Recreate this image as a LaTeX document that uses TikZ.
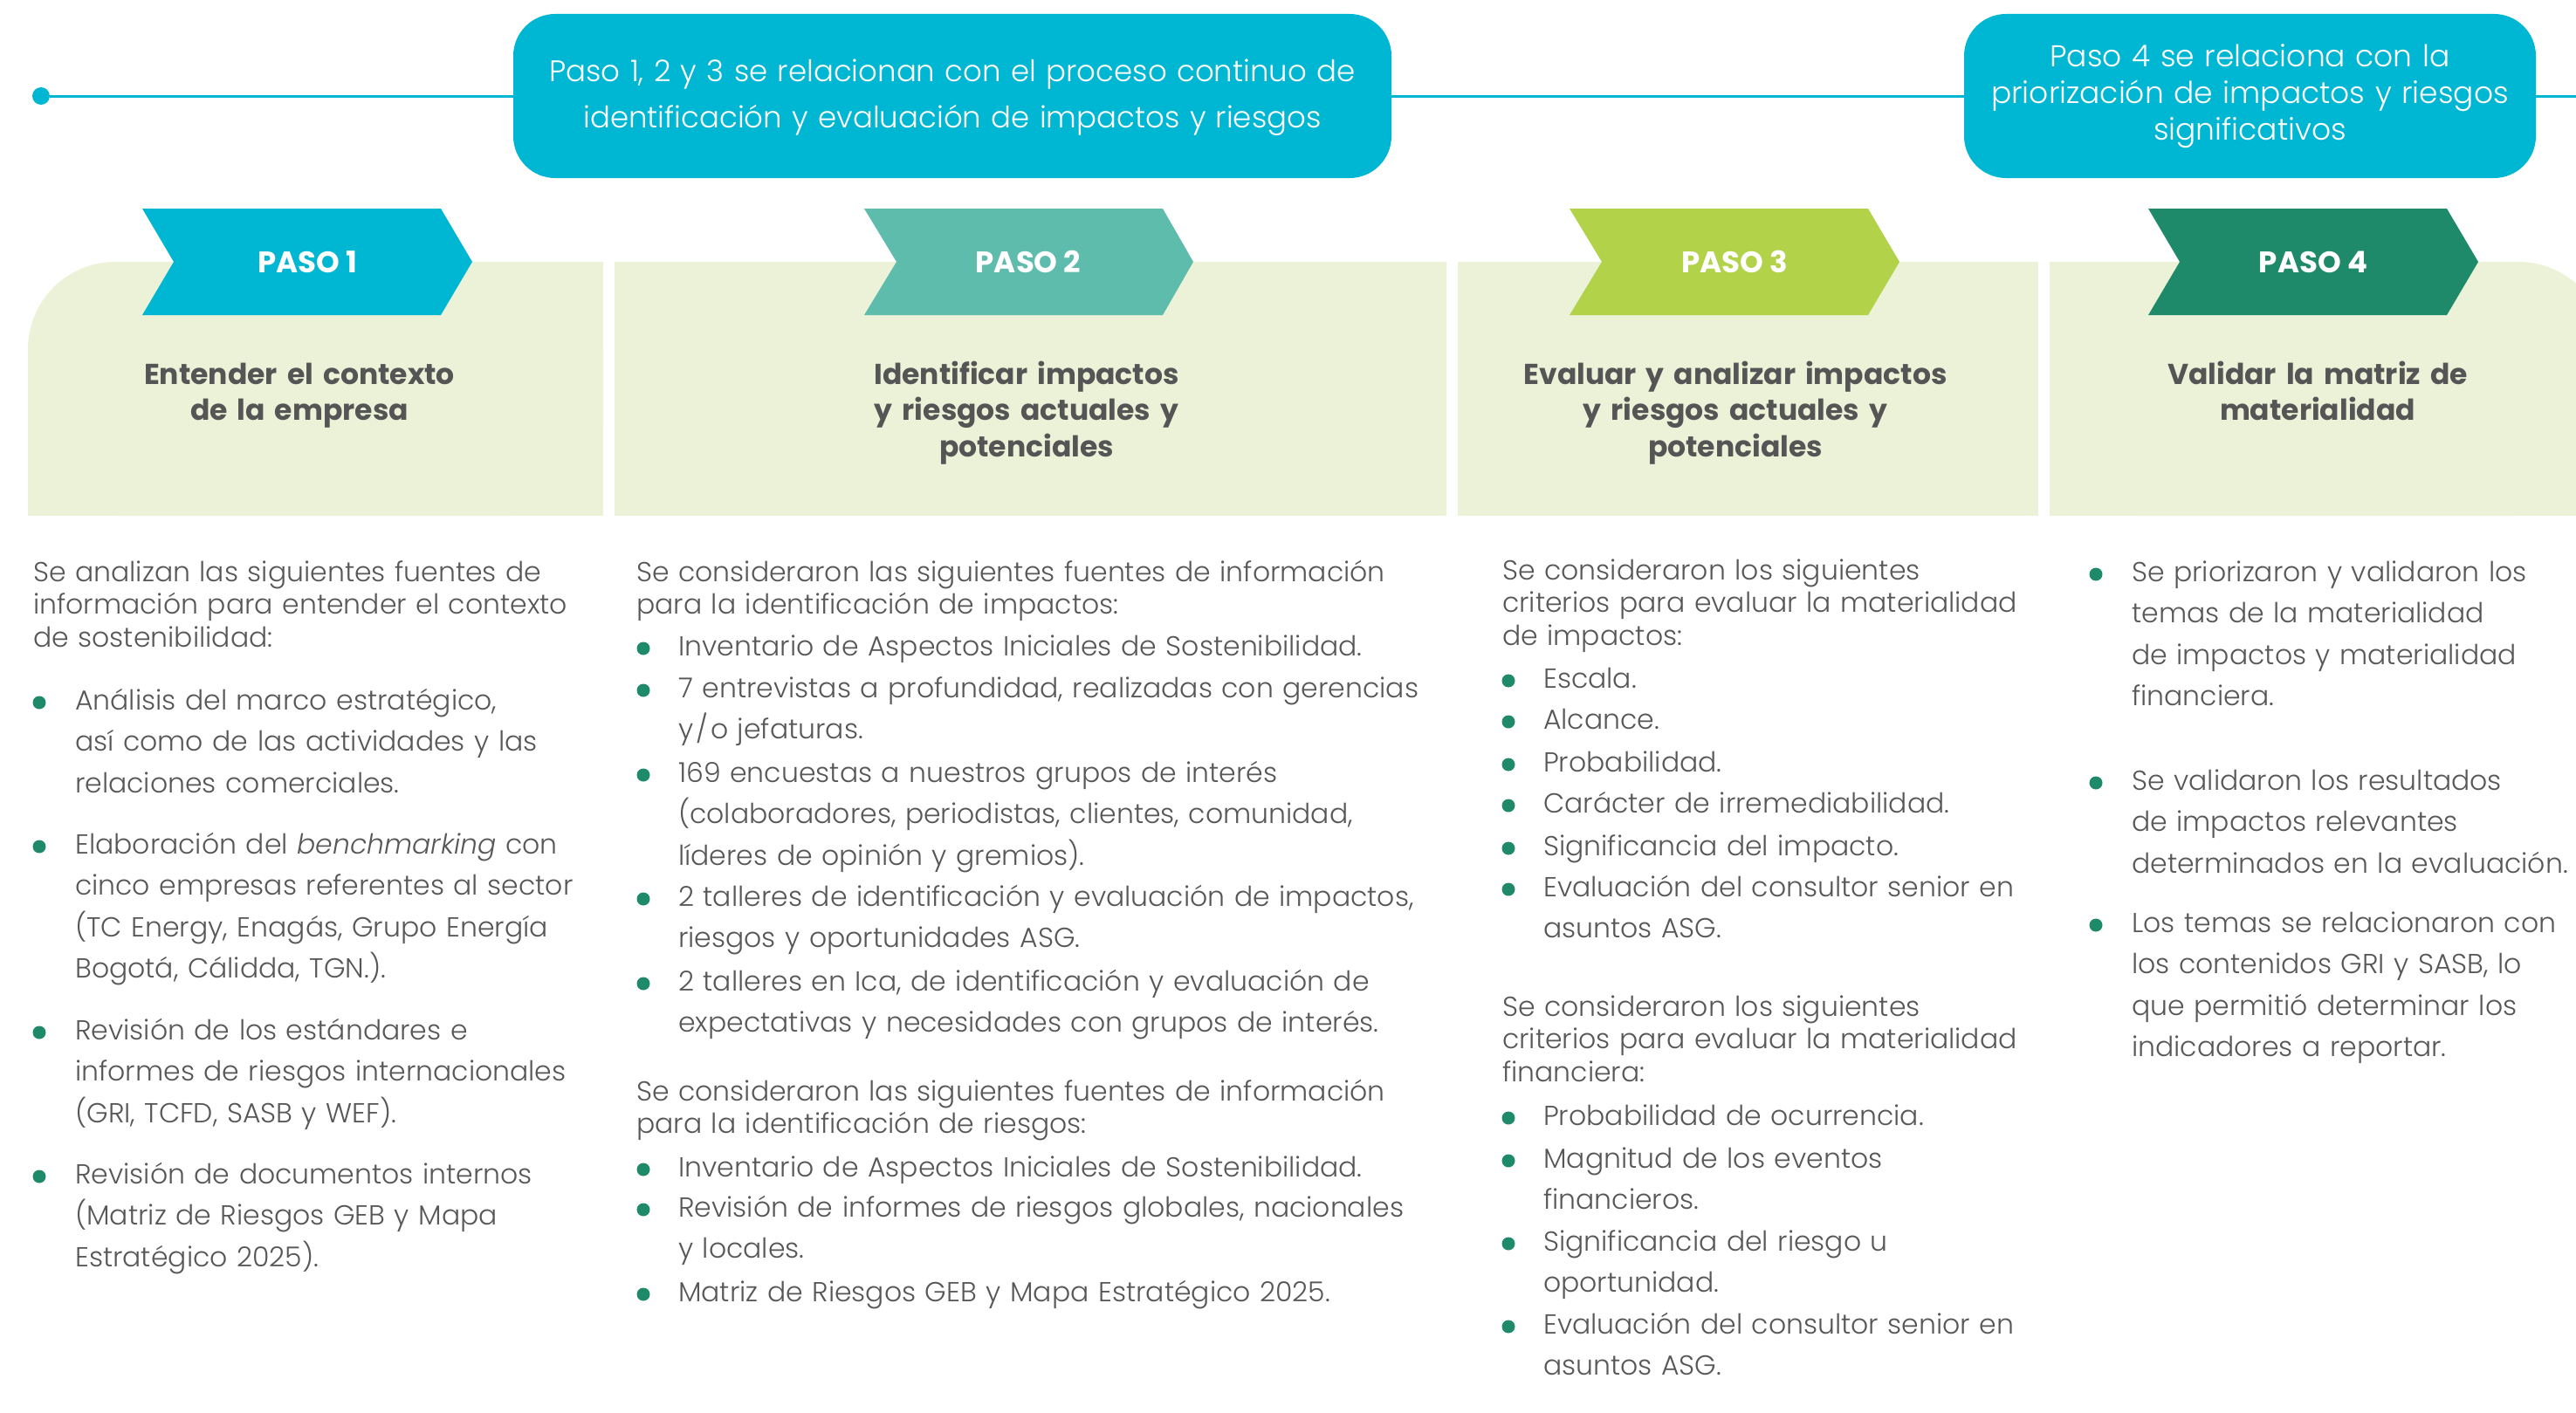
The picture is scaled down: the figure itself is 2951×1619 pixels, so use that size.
\documentclass[tikz,border=0pt]{standalone}
\usepackage{fontspec}
\setmainfont{Poppins}[UprightFont=* Light, ItalicFont=* Light Italic, BoldFont=* SemiBold, BoldItalicFont=* SemiBold Italic]
\newfontfamily\pasofont{Poppins}[UprightFont=* Bold]
\definecolor{cyanx}{HTML}{00B7D3}
\definecolor{tealx}{HTML}{5EBCAD}
\definecolor{limex}{HTML}{B1D249}
\definecolor{greenx}{HTML}{1E8A6A}
\definecolor{panelx}{HTML}{ECF2D7}
\definecolor{txt}{HTML}{575757}
\definecolor{hdrc}{HTML}{555555}
\tikzset{
  body/.style={anchor=base west, inner sep=0pt, align=left, text=txt,
    font=\fontsize{31.5}{47.5}\selectfont},
  para/.style={body, font=\fontsize{31.5}{37.5}\selectfont},
  dotb/.style={circle, fill=greenx, minimum size=15pt, inner sep=0pt},
  topbox/.style={fill=cyanx, rounded corners=48pt, inner sep=0pt},
  toptxt/.style={anchor=base, inner sep=0pt, align=center, text=white},
  hdr/.style={anchor=base, inner sep=0pt, align=center, text=hdrc,
    font=\fontsize{33}{41.5}\selectfont\pasofont},
  pasolbl/.style={inner sep=0pt, text=white, font=\fontsize{34}{36}\selectfont\pasofont},
  tline/.style={draw=cyanx, line width=3pt},
}
\begin{document}
\begin{tikzpicture}[x=1pt, y=-1pt]
\useasboundingbox (0,0) rectangle (2951,1619);

% ---- timeline with the two summary boxes ----
\node[circle, fill=cyanx, minimum size=20pt, inner sep=0pt] (start) at (47,110) {};
\node[topbox, minimum width=1006pt, minimum height=188pt] (b1) at (1091,110) {};
\node[topbox, minimum width=655pt, minimum height=188pt] (b2) at (2577.5,110) {};
\coordinate (lend) at (2951,110);
\draw[tline] (start) -- (b1.west);
\draw[tline] (b1.east) -- (b2.west);
\draw[tline] (b2.east) -- (lend);
\node[toptxt, text width=1000pt, font=\fontsize{34}{53}\selectfont] (b1t) at (1091,93)
  {Paso 1, 2 y 3 se relacionan con el proceso continuo de\\identificación y evaluación de impactos y riesgos};
\node[toptxt, text width=650pt, font=\fontsize{34.5}{42}\selectfont] (b2t) at (2577.5,77)
  {Paso 4 se relaciona con la\\priorización de impactos y riesgos\\significativos};

% ---- header panels ----
\fill[panelx, rounded corners=100pt] (32,300) rectangle (691,591);
\fill[panelx] (132,300) rectangle (691,591);
\fill[panelx] (32,400) rectangle (691,591);
\fill[panelx] (704,300) rectangle (1657,591);
\fill[panelx] (1670,300) rectangle (2335,591);
\fill[panelx, rounded corners=100pt] (2348,300) rectangle (2985,591);
\fill[panelx] (2348,300) rectangle (2885,591);
\fill[panelx] (2348,400) rectangle (2985,591);

% ---- step chevrons ----
\fill[cyanx]  (163,239) -- (505,239) -- (541,300) -- (505,361) -- (163,361) -- (199,300) -- cycle;
\fill[tealx]  (990,239) -- (1332,239) -- (1367,300) -- (1332,361) -- (990,361) -- (1027,300) -- cycle;
\fill[limex]  (1798,239) -- (2140,239) -- (2176,300) -- (2140,361) -- (1798,361) -- (1835,300) -- cycle;
\fill[greenx] (2461,239) -- (2803,239) -- (2839,300) -- (2803,361) -- (2461,361) -- (2497,300) -- cycle;
\node[pasolbl] (p1) at (352,300) {PASO 1};
\node[pasolbl] (p2) at (1178,300) {PASO 2};
\node[pasolbl] (p3) at (1987,300) {PASO 3};
\node[pasolbl] (p4) at (2650,300) {PASO 4};

% ---- step titles ----
\node[hdr, text width=600pt] (h1) at (343,440) {Entender el contexto\\de la empresa};
\node[hdr, text width=900pt] (h2) at (1176,440) {Identificar impactos\\y riesgos actuales y\\potenciales};
\node[hdr, text width=640pt] (h3) at (1988,440) {Evaluar y analizar impactos\\y riesgos actuales y\\potenciales};
\node[hdr, text width=600pt] (h4) at (2655,440) {Validar la matriz de\\materialidad};

% ---- column 1 ----
\node[para, text width=650pt] (c1p) at (38,666)
  {Se analizan las siguientes fuentes de\\información para entender el contexto\\de sostenibilidad:};
\node[dotb] (c1d1) at (45,805) {};
\node[body, text width=600pt] (c1b1) at (86,813)
  {Análisis del marco estratégico,\\así como de las actividades y las\\relaciones comerciales.};
\node[dotb] (c1d2) at (45,970) {};
\node[body, text width=600pt] (c1b2) at (86,978)
  {Elaboración del \textit{benchmarking} con\\cinco empresas referentes al sector\\(TC Energy, Enagás, Grupo Energía\\Bogotá, Cálidda, TGN.).};
\node[dotb] (c1d3) at (45,1183) {};
\node[body, text width=600pt] (c1b3) at (86,1191)
  {Revisión de los estándares e\\informes de riesgos internacionales\\(GRI, TCFD, SASB y WEF).};
\node[dotb] (c1d4) at (45,1348) {};
\node[body, text width=600pt] (c1b4) at (86,1356)
  {Revisión de documentos internos\\(Matriz de Riesgos GEB y Mapa\\Estratégico 2025).};

% ---- column 2 ----
\node[para, text width=900pt] (c2p) at (729,666)
  {Se consideraron las siguientes fuentes de información\\para la identificación de impactos:};
\node[dotb] (c2d1) at (737,743) {};
\node[body, text width=870pt] (c2b1) at (777,751)
  {Inventario de Aspectos Iniciales de Sostenibilidad.};
\node[dotb] (c2d2) at (737,791) {};
\node[body, text width=870pt] (c2b2) at (777,799)
  {7 entrevistas a profundidad, realizadas con gerencias\\y\kern3pt/\kern3pt o jefaturas.};
\node[dotb] (c2d3) at (737,888) {};
\node[body, text width=870pt] (c2b3) at (777,896)
  {169 encuestas a nuestros grupos de interés\\(colaboradores, periodistas, clientes, comunidad,\\líderes de opinión y gremios).};
\node[dotb] (c2d4) at (737,1030) {};
\node[body, text width=870pt] (c2b4) at (777,1038)
  {2 talleres de identificación y evaluación de impactos,\\riesgos y oportunidades ASG.};
\node[dotb] (c2d5) at (737,1127) {};
\node[body, text width=870pt] (c2b5) at (777,1135)
  {2 talleres en Ica, de identificación y evaluación de\\expectativas y necesidades con grupos de interés.};
\node[para, text width=900pt] (c2q) at (729,1261)
  {Se consideraron las siguientes fuentes de información\\para la identificación de riesgos:};
\node[dotb] (c2e1) at (737,1340) {};
\node[body, text width=870pt] (c2r1) at (777,1348)
  {Inventario de Aspectos Iniciales de Sostenibilidad.};
\node[dotb] (c2e2) at (737,1386) {};
\node[body, text width=870pt] (c2r2) at (777,1394)
  {Revisión de informes de riesgos globales, nacionales\\y locales.};
\node[dotb] (c2e3) at (737,1483) {};
\node[body, text width=870pt] (c2r3) at (777,1491)
  {Matriz de Riesgos GEB y Mapa Estratégico 2025.};

% ---- column 3 ----
\node[para, text width=620pt] (c3p) at (1721,664)
  {Se consideraron los siguientes\\criterios para evaluar la materialidad\\de impactos:};
\node[dotb] (c3d1) at (1728,780) {};
\node[body, text width=580pt] (c3b1) at (1768,788) {Escala.};
\node[dotb] (c3d2) at (1728,827) {};
\node[body, text width=580pt] (c3b2) at (1768,835) {Alcance.};
\node[dotb] (c3d3) at (1728,876) {};
\node[body, text width=580pt] (c3b3) at (1768,884) {Probabilidad.};
\node[dotb] (c3d4) at (1728,923) {};
\node[body, text width=580pt] (c3b4) at (1768,931) {Carácter de irremediabilidad.};
\node[dotb] (c3d5) at (1728,972) {};
\node[body, text width=580pt] (c3b5) at (1768,980) {Significancia del impacto.};
\node[dotb] (c3d6) at (1728,1019) {};
\node[body, text width=580pt] (c3b6) at (1768,1027) {Evaluación del consultor senior en\\asuntos ASG.};
\node[para, text width=620pt] (c3q) at (1721,1164)
  {Se consideraron los siguientes\\criterios para evaluar la materialidad\\financiera:};
\node[dotb] (c3e1) at (1728,1281) {};
\node[body, text width=580pt] (c3r1) at (1768,1289) {Probabilidad de ocurrencia.};
\node[dotb] (c3e2) at (1728,1330) {};
\node[body, text width=580pt] (c3r2) at (1768,1338) {Magnitud de los eventos\\financieros.};
\node[dotb] (c3e3) at (1728,1425) {};
\node[body, text width=580pt] (c3r3) at (1768,1433) {Significancia del riesgo u\\oportunidad.};
\node[dotb] (c3e4) at (1728,1520) {};
\node[body, text width=580pt] (c3r4) at (1768,1528) {Evaluación del consultor senior en\\asuntos ASG.};

% ---- column 4 ----
\node[dotb] (c4d1) at (2401,658) {};
\node[body, text width=500pt] (c4b1) at (2442,666)
  {Se priorizaron y validaron los\\temas de la materialidad\\de impactos y materialidad\\financiera.};
\node[dotb] (c4d2) at (2401,897) {};
\node[body, text width=500pt] (c4b2) at (2442,905)
  {Se validaron los resultados\\de impactos relevantes\\determinados en la evaluación.};
\node[dotb] (c4d3) at (2401,1060) {};
\node[body, text width=500pt] (c4b3) at (2442,1068)
  {Los temas se relacionaron con\\los contenidos GRI y SASB, lo\\que permitió determinar los\\indicadores a reportar.};
\end{tikzpicture}
\end{document}
